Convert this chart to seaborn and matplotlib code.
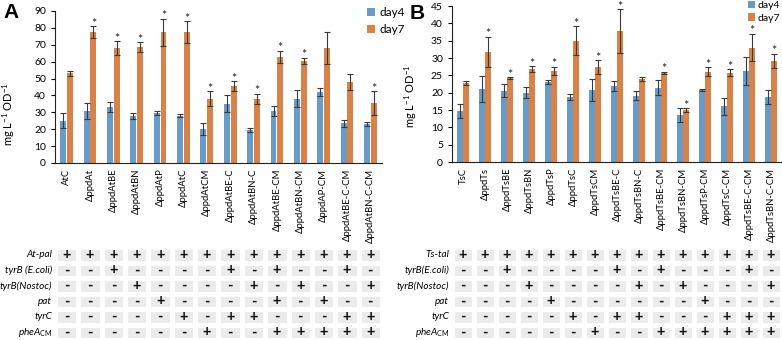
import numpy as np
import pandas as pd
import matplotlib
matplotlib.use("Agg")
import matplotlib.pyplot as plt
from matplotlib.colors import ListedColormap
import seaborn as sns

# panel A data
strains_a = ["AtC", "ΔppdAt", "ΔppdAtBE", "ΔppdAtBN", "ΔppdAtP", "ΔppdAtC", "ΔppdAtCM",
             "ΔppdAtBE-C", "ΔppdAtBN-C", "ΔppdAtBE-CM", "ΔppdAtBN-CM", "ΔppdAP-CM",
             "ΔppdAtBE-C-CM", "ΔppdAtBN-C-CM"]
day4_a = [25, 30.8, 33, 27.8, 29.6, 28, 20, 35, 19.5, 31, 38, 42, 23.5, 23]
day4_a_err = [4.5, 4.7, 3, 2, 1.3, 0.8, 3.5, 5, 1, 3, 5, 2.4, 2, 1]
day7_a = [53, 77.5, 68, 68.6, 77.5, 77.5, 38, 45.5, 38, 63, 60.4, 68, 48, 35.5]
day7_a_err = [1.2, 3.5, 4, 3, 8, 6.5, 4.5, 3, 3, 3.5, 2, 9.5, 4.6, 7]
star_a = [0, 1, 1, 1, 1, 1, 1, 1, 1, 1, 1, 0, 0, 1]

# panel B data
strains_b = ["TsC", "ΔppdTs", "ΔppdTsBE", "ΔppdTsBN", "ΔppdTsP", "ΔppdTsC", "ΔppdTsCM",
             "ΔppdTsBE-C", "ΔppdTsBN-C", "ΔppdTsBE-CM", "ΔppdTsBN-CM", "ΔppdTsP-CM",
             "ΔppdTsC-CM", "ΔppdTsBE-C-CM", "ΔppdTsBN-C-CM"]
day4_b = [14.7, 21, 20.6, 20, 23.1, 18.7, 20.7, 22, 19.1, 21.4, 13.5, 20.7, 16.1, 26.2, 18.8]
day4_b_err = [2, 3.8, 1.8, 1.5, 0.5, 0.8, 3.1, 1.5, 1.3, 2.2, 2, 0.3, 2.4, 4, 2]
day7_b = [22.8, 31.8, 24.2, 26.8, 26.3, 35, 27.3, 37.7, 24, 25.7, 15, 26, 25.7, 33, 29.2]
day7_b_err = [0.5, 4.3, 0.3, 0.8, 1.2, 4.2, 2, 6.3, 0.5, 0.3, 0.5, 1.3, 1, 4, 2]
star_b = [0, 1, 1, 1, 1, 1, 1, 1, 0, 1, 1, 1, 1, 1, 1]

# gene tables
rows_a = ["At-pal", "tyrB (E.coli)", "tyrB(Nostoc)", "pat", "tyrC", "pheA_CM"]
table_a = ["++++++++++++++",
           "--+----+-+--+-",
           "---+----+-+--+",
           "----+----+-+--",
           "-----+-++---++",
           "------+--+++++"]
rows_b = ["Ts-tal", "tyrB(E.coli)", "tyrB(Nostoc)", "pat", "tyrC", "pheA_CM"]
table_b = ["+++++++++++++++",
           "--+----+-+---+-",
           "---+----+-+---+",
           "----+------+---",
           "-----+-++---+++",
           "------+--++++++"]

BLUE = "#5B9BD5"
ORANGE = "#ED7D31"

plt.rcParams["font.family"] = ["Lato", "DejaVu Sans"]
plt.rcParams["mathtext.fontset"] = "custom"
plt.rcParams["mathtext.rm"] = "Lato"
plt.rcParams["mathtext.it"] = "Lato:italic"
plt.rcParams["axes.linewidth"] = 0.8

fig = plt.figure(figsize=(7.82, 3.40), dpi=100)


def bar_panel(ax, strains, d4, e4, d7, e7, stars, ymax, ystep):
    df = pd.DataFrame({
        "strain": strains * 2,
        "day": ["day4"] * len(strains) + ["day7"] * len(strains),
        "value": d4 + d7,
    })
    sns.barplot(data=df, x="strain", y="value", hue="day", palette=[BLUE, ORANGE],
                width=0.58, gap=0.12, errorbar=None, ax=ax, legend=True)
    for cont, err, st in zip(ax.containers, [e4, e7], [None, stars]):
        xs = [p.get_x() + p.get_width() / 2 for p in cont]
        ys = [p.get_height() for p in cont]
        ax.errorbar(xs, ys, yerr=err, fmt="none", ecolor="#3a3a3a", elinewidth=0.8,
                    capsize=2.5, capthick=0.8)
        if st is not None:
            for x, y, e, s in zip(xs, ys, err, st):
                if s:
                    ax.annotate("*", (x, y + e), xytext=(0, -2.5), textcoords="offset points",
                                ha="center", va="bottom", fontsize=9, color="#222222")
    ax.set_ylim(0, ymax)
    ax.set_xlim(-0.5, len(strains) - 0.5)
    ax.set_yticks(np.arange(0, ymax + 1, ystep))
    ax.set_xlabel("")
    ax.set_ylabel(r"mg L$^{-1}$ OD$^{-1}$", fontsize=8)
    ax.tick_params(axis="x", length=0, labelsize=6.8, rotation=90, pad=4)
    ax.tick_params(axis="y", length=3, width=0.8, labelsize=7.5)
    for s in ["top", "right"]:
        ax.spines[s].set_visible(False)
    ax.spines["left"].set_color("#222222")
    ax.spines["bottom"].set_color("#222222")


def table_panel(ax, rows, table):
    vals = np.array([[1 if c == "+" else 0 for c in r] for r in table])
    ann = np.array([[c for c in r] for r in table])
    labels = [r"$\mathit{pheA}_{\mathrm{CM}}$" if r == "pheA_CM" else r for r in rows]
    sns.heatmap(vals, annot=ann, fmt="", cmap=ListedColormap(["#ebebeb", "#ebebeb"]),
                cbar=False, linewidths=2.4, linecolor="white", xticklabels=False,
                yticklabels=labels, ax=ax,
                annot_kws={"fontsize": 10.5, "color": "#111111", "fontweight": "bold"})
    ax.tick_params(axis="y", length=0, pad=2, labelsize=7.2, rotation=0)
    for t in ax.get_yticklabels():
        t.set_fontstyle("italic")


ax_a = fig.add_axes([55 / 782, 177 / 340, 327 / 782, 152 / 340])
bar_panel(ax_a, strains_a, day4_a, day4_a_err, day7_a, day7_a_err, star_a, 90, 10)
ax_a.yaxis.set_label_coords(-0.115, 0.32)
sns.move_legend(ax_a, "upper left", bbox_to_anchor=(367 / 782, 1 - 7 / 340),
                bbox_transform=fig.transFigure, frameon=False, title=None, fontsize=8.5,
                handlelength=0.7, handleheight=0.7, handletextpad=0.35, labelspacing=0.55,
                borderpad=0, borderaxespad=0)

ax_b = fig.add_axes([452 / 782, 178 / 340, 330 / 782, 156 / 340])
bar_panel(ax_b, strains_b, day4_b, day4_b_err, day7_b, day7_b_err, star_b, 45, 5)
ax_b.yaxis.set_label_coords(-0.1, 0.42)
sns.move_legend(ax_b, "upper left", bbox_to_anchor=(748 / 782, 1 - 1 / 340),
                bbox_transform=fig.transFigure, frameon=False, title=None, fontsize=7.5,
                handlelength=0.7, handleheight=0.7, handletextpad=0.25, labelspacing=0.3,
                borderpad=0, borderaxespad=0)

tab_a = fig.add_axes([55 / 782, 0 / 340, 327 / 782, 93 / 340])
table_panel(tab_a, rows_a, table_a)
tab_b = fig.add_axes([452 / 782, 0 / 340, 330 / 782, 93 / 340])
table_panel(tab_b, rows_b, table_b)

fig.text(3 / 782, 1 - 3 / 340, "A", fontsize=15, fontweight="bold", va="top",
         family="Liberation Sans")
fig.text(410 / 782, 1 - 4 / 340, "B", fontsize=15, fontweight="bold", va="top",
         family="Liberation Sans")

fig.savefig("out.png", dpi=100)
